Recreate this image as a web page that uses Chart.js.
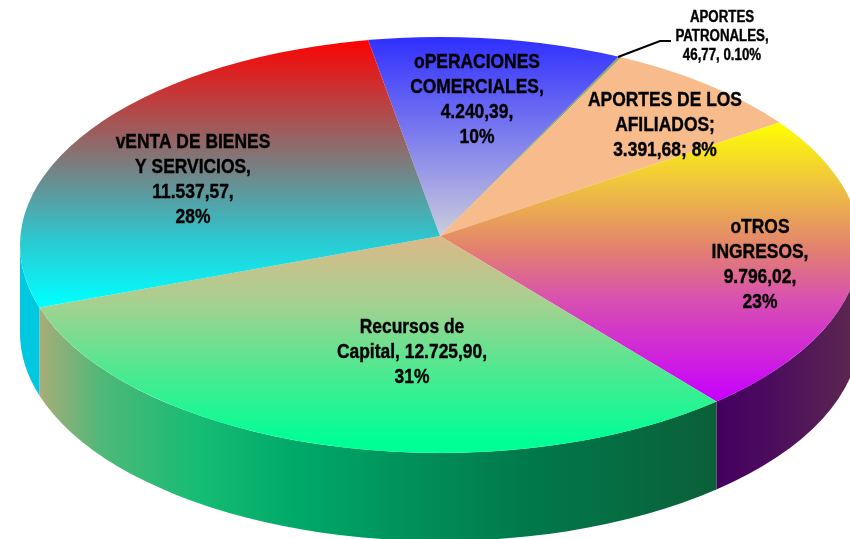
<!DOCTYPE html>
<html>
<head>
<meta charset="utf-8">
<title>Ingresos</title>
<script src="https://cdn.jsdelivr.net/npm/chart.js@4/dist/chart.umd.min.js"></script>
<style>
  html, body { margin: 0; padding: 0; background: #fff; overflow: hidden; }
  canvas { display: block; }
</style>
</head>
<body>
<canvas id="pieChart" width="850" height="539"></canvas>
<script>
// Chart data
var categories = ['Operaciones comerciales', 'Aportes patronales', 'Aportes de los afiliados', 'Otros ingresos', 'Recursos de Capital', 'Venta de bienes y servicios'];
var values = [4240.39, 46.77, 3391.68, 9796.02, 12725.90, 11537.57];
var labelLines = [
  ['oPERACIONES', 'COMERCIALES,', '4.240,39,', '10%'],
  ['APORTES', 'PATRONALES,', '46,77, 0.10%'],
  ['APORTES DE LOS', 'AFILIADOS;', '3.391,68; 8%'],
  ['oTROS', 'INGRESOS,', '9.796,02,', '23%'],
  ['Recursos de', 'Capital, 12.725,90,', '31%'],
  ['vENTA DE BIENES', 'Y SERVICIOS,', '11.537,57,', '28%']
];

// Shape of the tilted pie. The rim is an ellipse around (cx, cy), the slices
// meet a bit higher up at (cx, apexY), which fakes the perspective of the original
var cx = 440, cy = 245, apexY = 236, rx = 420, ry = 208, depth = 88;
var squash = ry / rx;
var narrow = 0.83;

// Where each label sits: centre x, first line y, line height, font size
var labelPos = [
  [477, 62, 25, 21],
  [722, 18, 19, 16],
  [665, 100, 25, 21],
  [760, 227, 25, 21],
  [412, 327, 25, 21],
  [193, 142, 25, 21]
];

// Top face colours: [screen y, colour]
var topStops = [
  [[38, '#3030ff'], [240, '#cfcfdc']],
  [[40, '#8aa860'], [240, '#8aa860']],
  [[40, '#f7bb8c'], [240, '#f7bb8c']],
  [[122, '#ffff00'], [180, '#f0c83c'], [250, '#e28070'], [300, '#d850b0'], [400, '#c800ff']],
  [[236, '#dcb888'], [300, '#a8d090'], [370, '#50e890'], [440, '#00ff96']],
  [[38, '#ff0000'], [150, '#8a6f70'], [240, '#2cc8d0'], [305, '#00ffff']]
];

// Side wall colours: [screen x, colour]
var wallStops = [
  [[300, '#888888'], [500, '#888888']],
  [[300, '#888888'], [500, '#888888']],
  [[300, '#888888'], [500, '#888888']],
  [[718, '#45005f'], [770, '#4c0c5e'], [850, '#5a2650']],
  [[40, '#a8ac78'], [100, '#50b878'], [200, '#14bc74'], [300, '#00a868'], [520, '#007a4c'], [718, '#0b5f38']],
  [[20, '#00c8e0'], [40, '#00c8e0']]
];

// Build a vertical gradient in the squashed drawing space
function topGradient(ctx, stops) {
  var first = stops[0][0], last = stops[stops.length - 1][0];
  var g = ctx.createLinearGradient(0, apexY + (first - apexY) / squash, 0, apexY + (last - apexY) / squash);
  for (var i = 0; i < stops.length; i++) {
    g.addColorStop((stops[i][0] - first) / (last - first), stops[i][1]);
  }
  return g;
}

function wallGradient(ctx, stops) {
  var first = stops[0][0], last = stops[stops.length - 1][0];
  var g = ctx.createLinearGradient(first, 0, last, 0);
  for (var i = 0; i < stops.length; i++) {
    g.addColorStop((stops[i][0] - first) / (last - first), stops[i][1]);
  }
  return g;
}

// Angle on the rim ellipse where a slice edge leaving the apex hits it
function rimAngle(angle) {
  var py = (apexY - cy) / squash;
  var dx = Math.cos(angle), dy = Math.sin(angle);
  var b = py * dy;
  var t = -b + Math.sqrt(b * b - (py * py - rx * rx));
  return Math.atan2(py + t * dy, t * dx);
}

// Draws the side walls, then clips to the rim and squashes the circle
var tiltPlugin = {
  id: 'tilt',
  beforeDatasetsDraw: function (chart) {
    var ctx = chart.ctx;
    var arcs = chart.getDatasetMeta(0).data;
    for (var i = 0; i < arcs.length; i++) {
      var start = rimAngle(arcs[i].startAngle);
      var end = rimAngle(arcs[i].endAngle);
      if (end < start) end += 2 * Math.PI;
      for (var turn = -1; turn <= 1; turn++) {
        var a0 = Math.max(start + turn * 2 * Math.PI, 0);
        var a1 = Math.min(end + turn * 2 * Math.PI, Math.PI);
        if (a1 <= a0) continue;
        ctx.beginPath();
        ctx.ellipse(cx, cy, rx, ry, 0, a0, a1);
        ctx.ellipse(cx, cy + depth, rx, ry, 0, a1, a0, true);
        ctx.closePath();
        ctx.fillStyle = wallGradient(ctx, wallStops[i]);
        ctx.fill();
      }
    }
    ctx.save();
    ctx.beginPath();
    ctx.ellipse(cx, cy, rx, ry, 0, 0, 2 * Math.PI);
    ctx.clip();
    ctx.translate(cx, apexY);
    ctx.scale(1, squash);
    ctx.translate(-cx, -apexY);
  },
  afterDatasetsDraw: function (chart) {
    var ctx = chart.ctx;
    ctx.restore();

    // Leader line for the very small slice
    ctx.beginPath();
    ctx.moveTo(618, 57);
    ctx.lineTo(660, 41);
    ctx.lineTo(671, 41);
    ctx.strokeStyle = '#000';
    ctx.lineWidth = 2;
    ctx.stroke();

    ctx.fillStyle = '#000';
    ctx.lineWidth = 0.4;
    ctx.textAlign = 'center';
    ctx.textBaseline = 'middle';
    for (var i = 0; i < labelLines.length; i++) {
      var pos = labelPos[i];
      ctx.font = 'bold ' + pos[3] + 'px "Liberation Sans", Arial, sans-serif';
      for (var j = 0; j < labelLines[i].length; j++) {
        var w = ctx.measureText(labelLines[i][j]).width;
        ctx.fillText(labelLines[i][j], pos[0], pos[1] + j * pos[2], w * narrow);
        ctx.strokeText(labelLines[i][j], pos[0], pos[1] + j * pos[2], w * narrow);
      }
    }
  }
};

var pieChart = new Chart(document.getElementById('pieChart').getContext('2d'), {
  type: 'pie',
  data: {
    labels: categories,
    datasets: [{
      data: values,
      clip: false,
      borderWidth: 0,
      radius: rx + 40,
      backgroundColor: function (context) {
        return topGradient(context.chart.ctx, topStops[context.dataIndex]);
      }
    }]
  },
  options: {
    responsive: false,
    animation: false,
    rotation: -10.3,
    layout: { padding: { left: cx * 2 - 850, top: 0, right: 0, bottom: 539 - apexY * 2 } },
    plugins: {
      legend: { display: false },
      tooltip: { enabled: false }
    },
    events: []
  },
  plugins: [tiltPlugin]
});
</script>
</body>
</html>
